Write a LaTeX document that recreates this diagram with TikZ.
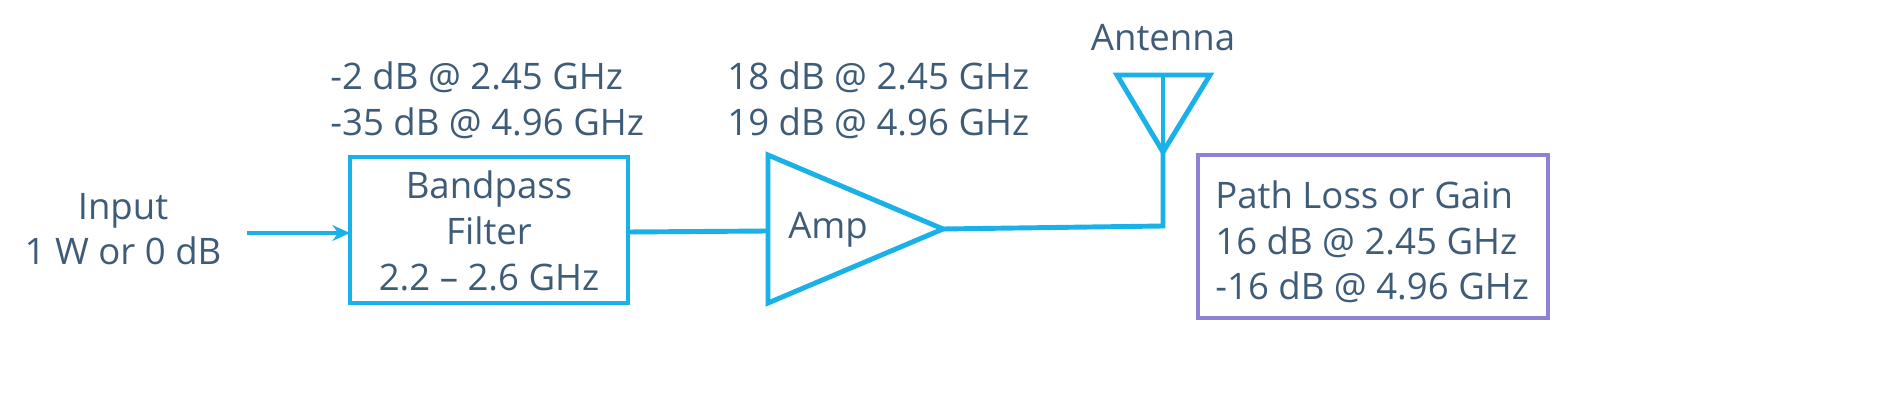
\documentclass[tikz,border=0pt]{standalone}
\usepackage{fontspec}
\setmainfont{Open Sans}
\usetikzlibrary{arrows.meta}
\definecolor{txtblue}{HTML}{3E5C78}
\definecolor{cyanline}{HTML}{1AB0E8}
\definecolor{purpline}{HTML}{9080D8}
\tikzset{
  lbl/.style={text=txtblue, font=\fontsize{20.8}{26}\selectfont, align=center, inner sep=0pt},
  lbll/.style={lbl, align=left, anchor=west},
  part/.style={draw=cyanline, line width=2.8pt},
}
\begin{document}
\begin{tikzpicture}[x=0.02cm, y=-0.02cm]
\useasboundingbox (0,0) rectangle (1897,402);
% input
\node[lbl] (inp) at (123,229) {Input\\1 W or 0 dB};
\coordinate (inend) at (247,233);
% filter
\draw[part] (350,157) rectangle (628,303);
\coordinate (fin) at (350,233);
\coordinate (fout) at (628,232);
\node[lbl] (filt) at (489,231) {Bandpass\\Filter\\2.2 -- 2.6 GHz};
\node[lbll] (fspec) at (330,100) {-2 dB @ 2.45 GHz\\-35 dB @ 4.96 GHz};
% amplifier
\draw[part, line join=miter] (768,155) -- (768,303) -- (943,229) -- cycle;
\coordinate (ain) at (768,231);
\coordinate (aout) at (943,229);
\node[lbl] (amp) at (828,230) {Amp};
\node[lbll] (aspec) at (727,100) {18 dB @ 2.45 GHz\\19 dB @ 4.96 GHz};
% antenna
\coordinate (ant) at (1163,152);
\coordinate (corner) at (1163,226);
\draw[part, line join=miter] (1117,75) -- (1210,75) -- (ant) -- cycle;
\draw[part] (1163,75) -- (ant);
\node[lbl] (antl) at (1163,38) {Antenna};
% path loss
\draw[draw=purpline, line width=2.8pt] (1198,155) rectangle (1548,318);
\node[lbll] (loss) at (1215,242) {Path Loss or Gain\\16 dB @ 2.45 GHz\\-16 dB @ 4.96 GHz};
% connections
\draw[cyanline, line width=2.8pt, -{Stealth[length=10pt,width=9pt]}] (inend) -- (fin);
\draw[cyanline, line width=2.8pt] (fout) -- (ain);
\draw[cyanline, line width=2.8pt] (aout) -- (corner) -- (ant);
\end{tikzpicture}
\end{document}
